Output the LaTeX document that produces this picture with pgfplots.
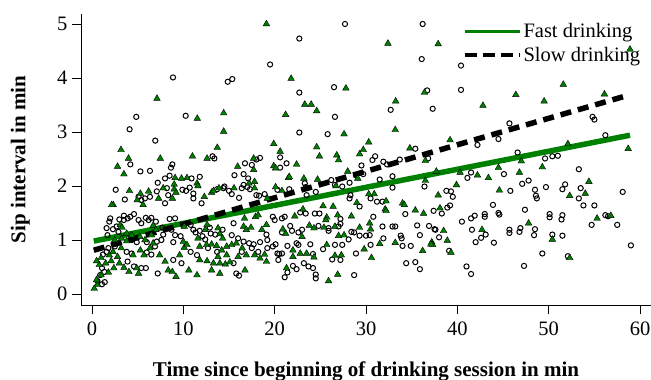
\documentclass[border=0pt]{standalone}
\usepackage{pgfplots}
\pgfplotsset{compat=1.18}
\usepackage{fontspec}
\setmainfont{Liberation Serif}
\definecolor{fastgreen}{RGB}{0,128,0}

\pgfplotstableread{
x y
19.5 4.25
8.87 4.01
14.86 3.93
15.36 3.98
4.85 3.28
10.26 3.30
4.12 3.05
6.93 2.84
13.2 2.55
13.4 2.51
18.4 2.52
27.7 5.0
36.2 5.0
22.7 4.73
36.1 4.35
26.5 3.83
22.7 3.73
36.7 3.77
32.7 3.41
37.3 3.43
26.6 3.28
22.7 2.99
25.8 2.96
35.4 2.69
20.6 2.53
31.0 2.55
36.8 2.51
40.4 4.23
40.4 3.78
54.8 3.28
55.0 3.23
45.7 3.16
44.5 2.87
42.2 2.76
56.2 2.94
46.6 2.62
49.6 2.51
50.4 2.55
51.0 2.56
53.3 2.31
41.1 2.15
41.5 2.25
45.1 2.22
47.8 2.10
47.1 2.04
51.8 2.03
58.1 1.89
45.8 1.91
48.5 1.93
49.7 1.98
51.5 1.94
53.5 1.96
48.6 1.82
48.7 1.77
53.3 1.77
43.9 1.65
53.8 1.64
55.0 1.64
47.4 1.56
44.5 1.50
44.6 1.47
43.0 1.48
43.0 1.43
41.9 1.45
41.5 1.40
40.5 1.34
50.1 1.48
50.1 1.42
51.5 1.46
51.4 1.38
56.2 1.46
56.5 1.44
54.7 1.28
57.5 1.28
41.6 1.19
45.7 1.19
45.7 1.13
46.9 1.22
46.8 1.15
48.5 1.20
48.4 1.09
43.1 1.10
42.6 1.04
42.0 0.96
44.0 0.95
50.4 1.10
51.5 1.08
59.0 0.90
49.3 0.75
52.1 0.70
47.3 0.52
41.0 0.51
41.5 0.37
38.8 1.91
39.3 1.90
39.5 1.80
37.4 1.54
38.9 1.60
39.2 1.64
38.3 1.49
37.6 1.19
38.0 1.05
39.1 0.80
31.9 2.45
32.3 2.40
21.3 2.42
20.6 2.34
28.9 2.20
29.7 2.22
31.5 2.12
32.9 2.18
20.3 1.93
21.6 1.94
24.5 1.89
27.4 1.99
32.9 1.97
36.4 1.99
28.3 1.83
28.2 1.77
30.5 1.77
31.2 1.71
31.8 1.71
29.3 1.62
24.4 1.49
24.9 1.49
22.8 1.51
23.4 1.49
21.1 1.43
20.8 1.40
19.8 1.43
20.0 1.37
27.2 1.39
30.8 1.43
34.3 1.48
21.7 1.26
21.9 1.17
20.8 1.14
22.6 1.14
23.0 1.19
24.8 1.26
25.9 1.22
25.9 1.17
27.2 1.30
27.0 1.25
28.4 1.15
28.7 1.14
29.3 1.08
30.0 1.08
31.8 1.25
32.9 1.25
33.2 1.25
30.4 1.09
31.9 1.03
33.8 1.08
33.9 1.03
35.6 1.27
36.9 1.26
37.5 1.20
35.9 1.09
34.0 0.89
34.9 0.89
30.5 0.91
28.1 1.01
26.6 0.91
27.4 0.91
25.3 0.83
23.9 0.92
22.4 0.94
22.6 0.91
21.4 0.89
20.1 0.92
19.8 0.88
20.3 0.75
20.8 0.75
24.2 0.74
26.3 0.64
27.2 0.63
28.9 0.75
23.2 0.57
23.7 0.51
24.2 0.48
22.0 0.52
22.4 0.46
20.5 0.74
20.4 0.63
21.4 0.40
21.1 0.31
24.5 0.36
24.5 0.29
28.7 0.35
34.4 0.57
35.4 0.59
35.9 0.46
23.5 1.83
30.7 2.48
29.5 2.38
33.7 2.49
15.0 1.91
16.6 2.02
23.3 2.05
23.4 1.98
26.2 2.11
26.6 2.02
28.2 2.06
18.0 2.49
8.8 2.40
8.65 2.34
4.2 2.40
5.3 2.27
6.35 2.28
16.75 2.42
17.5 2.39
15.6 2.20
16.6 2.22
17.1 2.14
8.0 2.14
8.5 2.19
10.9 2.14
11.8 2.17
7.2 2.06
2.6 1.93
3.6 1.75
5.1 1.80
5.4 1.74
5.8 1.77
6.35 1.80
7.1 1.90
8.2 1.96
8.35 1.83
8.0 1.68
9.9 1.93
10.3 1.91
10.7 1.97
11.1 1.86
11.1 1.77
12.0 1.68
13.7 1.94
14.4 1.96
14.5 1.99
15.3 1.85
16.1 1.78
16.4 1.96
17.0 1.98
17.3 1.94
18.0 1.83
18.3 1.82
18.9 1.85
2.0 1.40
1.9 1.34
3.0 1.38
3.5 1.37
3.9 1.40
4.2 1.43
4.6 1.48
3.5 1.45
2.3 1.20
2.7 1.25
1.7 1.09
1.6 1.22
5.1 1.37
5.4 1.31
5.9 1.41
6.2 1.37
6.5 1.41
7.0 1.34
7.7 1.23
8.5 1.39
9.1 1.40
8.7 1.19
9.1 1.09
9.7 1.07
8.9 0.96
10.8 1.28
11.1 1.19
11.35 1.14
11.8 1.17
12.1 1.07
12.4 1.01
12.9 1.23
13.0 1.12
13.5 1.10
14.3 1.19
15.3 1.09
15.5 1.31
16.0 1.03
16.6 0.97
17.2 0.94
17.7 0.92
18.4 0.96
19.1 1.10
19.2 1.00
0.6 0.24
1.1 0.18
1.4 0.22
0.9 0.35
1.35 0.41
1.1 0.48
1.2 0.73
1.6 0.78
1.8 0.85
2.5 0.88
3.9 0.60
4.6 0.51
3.8 0.78
4.35 0.75
5.4 0.48
5.9 0.48
6.0 0.77
6.5 0.73
6.9 0.88
7.1 0.97
7.2 0.38
8.9 0.63
9.8 0.57
10.8 0.78
11.5 0.72
12.7 0.85
13.7 0.78
15.5 0.57
15.8 0.38
16.1 0.34
16.4 0.78
17.5 0.85
18.2 0.78
19.2 0.85
4.35 1.00
4.9 0.96
2.9 1.15
6.0 0.96
7.6 1.00
7.8 1.10
}\slowpts

\pgfplotstableread{
x y
19.1 5.0
7.12 3.62
11.53 3.25
14.42 3.35
14.42 3.01
3.18 2.67
13.72 2.71
4.0 2.51
7.48 2.51
11.0 2.55
12.6 2.51
17.7 2.51
32.4 4.64
37.9 4.63
21.8 3.99
27.8 3.81
36.4 3.73
33.25 3.57
23.3 3.51
24.0 3.51
24.6 3.39
21.2 3.32
33.2 3.04
27.6 2.96
19.9 2.78
30.3 2.81
20.6 2.64
24.6 2.72
29.7 2.67
34.8 2.70
39.2 2.85
24.9 2.55
26.8 2.57
29.3 2.59
58.9 4.53
42.8 3.49
46.4 3.69
49.5 3.57
51.6 3.88
56.1 3.70
58.7 2.69
52.1 2.78
47.0 2.46
44.5 2.34
46.8 2.25
49.3 2.35
40.3 2.25
42.2 2.20
43.4 2.15
54.4 2.08
39.9 2.02
44.6 1.92
54.0 1.86
52.3 1.82
55.3 1.40
56.8 1.45
47.8 1.31
42.7 1.19
50.4 1.01
52.3 0.67
37.9 1.83
38.1 1.59
38.5 1.17
38.9 0.99
39.3 0.77
37.2 0.96
22.4 2.40
19.9 2.37
20.1 2.33
28.0 2.27
29.1 2.14
21.5 2.15
23.2 2.14
24.7 2.12
36.5 2.10
37.7 2.27
20.1 1.98
26.7 2.00
30.3 1.85
30.9 1.85
32.2 1.72
34.0 1.68
34.2 1.65
29.0 1.69
25.3 1.63
26.4 1.62
23.1 1.57
22.2 1.44
25.7 1.42
25.6 1.37
26.9 1.46
32.1 1.57
32.2 1.54
35.4 1.55
36.3 1.49
28.4 1.44
21.2 1.12
20.9 1.20
23.0 1.06
23.8 1.27
24.3 1.22
25.4 1.23
26.6 1.25
27.6 1.09
27.0 1.08
29.3 1.23
30.4 1.31
30.5 1.20
37.3 0.91
33.2 0.95
31.5 0.93
25.7 0.91
22.0 0.81
22.0 0.69
22.8 0.75
23.5 0.75
24.3 0.68
26.6 0.71
27.3 0.72
29.8 0.83
30.6 0.67
21.3 0.48
26.9 0.36
25.9 0.24
36.2 0.80
37.1 0.92
27.0 2.48
36.5 2.47
21.6 2.17
15.55 1.96
20.8 1.91
2.8 2.36
3.5 2.22
15.95 2.36
17.7 2.30
9.1 2.15
9.8 2.14
10.4 2.15
11.5 2.05
11.6 2.00
9.0 2.03
4.1 1.91
2.33 1.65
5.3 1.86
6.2 1.90
7.3 1.77
9.0 1.94
9.2 1.88
12.3 1.80
13.1 1.88
17.8 1.96
17.2 2.05
17.8 2.08
19.2 1.77
4.95 1.74
5.6 1.65
7.8 1.96
8.8 1.77
13.3 1.91
13.9 1.96
2.15 1.65
3.1 1.28
3.3 1.23
6.7 1.27
7.0 1.19
10.1 1.25
11.6 1.03
12.4 1.19
12.6 1.28
13.8 1.22
14.0 1.11
14.3 1.03
16.6 1.25
16.9 1.19
17.4 1.23
16.7 1.40
17.9 1.43
18.6 1.19
19.1 1.28
18.2 1.46
0.6 0.17
0.25 0.10
0.5 0.26
1.0 0.35
0.8 0.54
0.5 0.61
1.0 0.67
1.5 0.57
1.9 0.72
2.1 0.61
2.3 0.78
2.8 0.69
3.2 0.85
3.0 0.57
3.5 0.49
4.05 0.41
2.4 0.48
1.8 0.40
4.9 0.48
5.1 0.38
4.5 0.72
5.3 0.81
5.7 0.72
6.35 0.85
6.7 0.94
7.4 0.72
8.0 0.60
8.35 0.44
8.8 0.41
9.2 0.32
9.6 0.72
10.1 0.86
10.6 0.44
11.5 0.35
11.8 0.63
12.6 0.61
13.3 0.57
14.0 0.57
14.6 0.55
15.1 0.59
13.8 0.69
14.75 0.72
13.1 0.44
14.0 0.38
16.75 0.44
16.0 0.69
16.9 0.72
17.8 0.72
18.4 0.66
18.9 0.73
19.1 0.60
2.5 1.00
3.25 1.03
3.8 0.98
3.8 1.12
4.35 1.09
5.25 1.06
5.8 1.00
6.5 1.09
10.0 0.97
10.4 0.91
11.8 0.88
12.55 0.91
13.1 0.92
13.65 0.89
14.2 0.81
14.75 0.88
15.3 0.91
15.8 0.94
16.45 0.85
}\fastpts

\begin{document}
\begin{tikzpicture}
\begin{axis}[
  scale only axis,
  width=570pt, height=291pt,
  xmin=-1.2, xmax=61.2,
  ymin=-0.204, ymax=5.185,
  axis x line*=bottom, axis y line*=left,
  axis line style={line width=0.9pt, -},
  tick style={line width=0.9pt, black},
  tick align=outside,
  major tick length=9pt,
  xtick={0,10,20,30,40,50,60},
  ytick={0,1,2,3,4,5},
  /pgf/number format/assume math mode=true,
  tick label style={font=\fontsize{20.5}{24}\selectfont},
  xticklabel style={yshift=-4pt},
  yticklabel style={xshift=-1pt},
  xlabel={\textbf{Time since beginning of drinking session in min}},
  ylabel={\textbf{Sip interval in min}},
  label style={font=\fontsize{21}{25}\selectfont},
  xlabel style={at={(axis description cs:0.5,-0.247)}, anchor=base, inner sep=0pt},
  ylabel style={at={(axis description cs:-0.0895,0.5)}, anchor=south, inner sep=0pt},
  clip=false,
  legend style={draw=none, fill=none, at={(axis description cs:0.985,0.975)}, anchor=north east,
    font=\fontsize{20.5}{24}\selectfont, inner sep=0pt, row sep=4pt},
  legend cell align=left,
]
\addplot[only marks, mark=o, mark size=2.6pt, mark options={line width=1pt, black}, forget plot] table[x=x,y=y] {\slowpts};
\addplot[only marks, mark=triangle*, mark size=3.8pt, mark options={draw=none, fill=fastgreen}, forget plot] table[x=x,y=y] {\fastpts};
\addplot[fastgreen, line width=5.5pt,
  legend image code/.code={\draw[fastgreen, line width=3.5pt] (0pt,0pt) -- (55pt,0pt);}]
  coordinates {(0.2,0.98) (58.9,2.94)};
\addlegendentry{Fast drinking}
\addplot[black, line width=5.5pt, dash pattern=on 11pt off 7pt,
  legend image code/.code={\draw[black, line width=4pt, dash pattern=on 12pt off 6pt] (0pt,0pt) -- (55pt,0pt);}]
  coordinates {(0.2,0.81) (58.7,3.68)};
\addlegendentry{Slow drinking}
\end{axis}
\pgfresetboundingbox
\path (-81pt,-75pt) rectangle (570pt,305pt);
\end{tikzpicture}
\end{document}
